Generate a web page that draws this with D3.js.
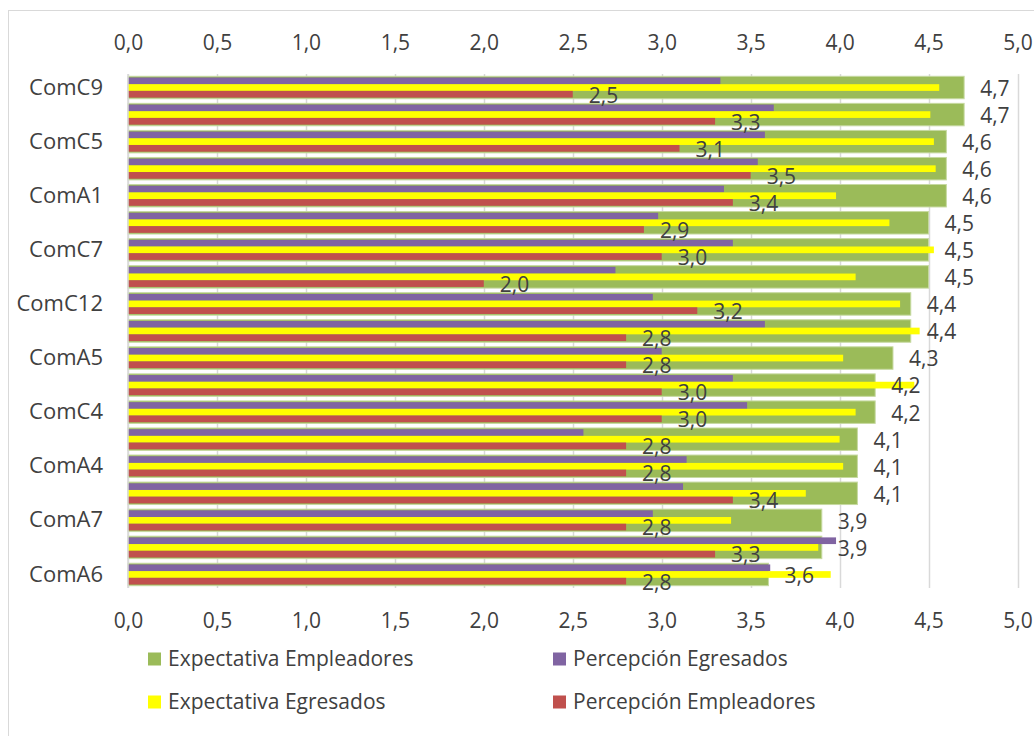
<!DOCTYPE html>
<html>
<head>
<meta charset="utf-8">
<script src="https://cdn.jsdelivr.net/npm/d3@7"></script>
<style>
  body { margin: 0; background: #fff; }
  text { font-family: "Open Sans", sans-serif; fill: #404040; }
</style>
</head>
<body>
<div id="chart"></div>
<script>
// data (only every other category name is printed)
var categories = ["ComC9", "", "ComC5", "", "ComA1", "", "ComC7", "", "ComC12", "",
                  "ComA5", "", "ComC4", "", "ComA4", "", "ComA7", "", "ComA6"];
var expEmpleadores  = [4.7, 4.7, 4.6, 4.6, 4.6, 4.5, 4.5, 4.5, 4.4, 4.4, 4.3, 4.2, 4.2, 4.1, 4.1, 4.1, 3.9, 3.9, 3.6];
var percEgresados   = [3.33, 3.63, 3.58, 3.54, 3.35, 2.98, 3.40, 2.74, 2.95, 3.58, 3.00, 3.40, 3.48, 2.56, 3.14, 3.12, 2.95, 3.98, 3.61];
var expEgresados    = [4.56, 4.51, 4.53, 4.54, 3.98, 4.28, 4.53, 4.09, 4.34, 4.45, 4.02, 4.42, 4.09, 4.00, 4.02, 3.81, 3.39, 3.88, 3.95];
var percEmpleadores = [2.5, 3.3, 3.1, 3.5, 3.4, 2.9, 3.0, 2.0, 3.2, 2.8, 2.8, 3.0, 3.0, 2.8, 2.8, 3.4, 2.8, 3.3, 2.8];
var xTicks = [0, 0.5, 1, 1.5, 2, 2.5, 3, 3.5, 4, 4.5, 5];

var seriesNames = ["Expectativa Empleadores", "Percepción Egresados", "Expectativa Egresados", "Percepción Empleadores"];
var colors = {
  "Expectativa Empleadores": "#9bbb59",
  "Percepción Egresados": "#8064a2",
  "Expectativa Egresados": "#ffff00",
  "Percepción Empleadores": "#c0504d"
};

var fontSize = "21px";
var fmt = d3.formatLocale({decimal: ",", thousands: ".", grouping: [3], currency: ["", ""]}).format(".1f");

var width = 1034, height = 736;
var svg = d3.select("#chart").append("svg")
  .attr("width", width)
  .attr("height", height);

// chart frame (runs off the picture on the right and bottom)
svg.append("rect")
  .attr("x", 8.5)
  .attr("y", 10.5)
  .attr("width", 1100)
  .attr("height", 800)
  .attr("fill", "#fff")
  .attr("stroke", "#d9d9d9");

var x = d3.scaleLinear().domain([0, 5]).range([128, 1017.5]);
var y = d3.scaleBand()
  .domain(d3.range(categories.length))
  .range([74, 588])
  .paddingInner(0.17)
  .paddingOuter(0.085);

// three thin bars sit inside the wide green one
var inner = d3.scaleBand()
  .domain(["Percepción Egresados", "Expectativa Egresados", "Percepción Empleadores"])
  .range([1.2, y.bandwidth() - 1.2]);

// GRIDLINES
svg.append("g").selectAll("line")
  .data(xTicks)
  .enter().append("line")
  .attr("x1", function(d) { return Math.round(x(d)) + 0.5; })
  .attr("x2", function(d) { return Math.round(x(d)) + 0.5; })
  .attr("y1", 74)
  .attr("y2", 588)
  .attr("stroke", "#d9d9d9")
  .attr("stroke-width", 1.5);

// AXES
var topAxis = svg.append("g")
  .attr("transform", "translate(0,74)")
  .call(d3.axisTop(x).tickValues(xTicks).tickFormat(fmt).tickSize(0).tickPadding(24));
var bottomAxis = svg.append("g")
  .attr("transform", "translate(0,588)")
  .call(d3.axisBottom(x).tickValues(xTicks).tickFormat(fmt).tickSize(0).tickPadding(25));
var leftAxis = svg.append("g")
  .attr("transform", "translate(128,0)")
  .call(d3.axisLeft(y).tickFormat(function(i) { return categories[i]; }).tickSize(0).tickPadding(25));

[topAxis, bottomAxis, leftAxis].forEach(function(a) {
  a.select(".domain").remove();
  a.selectAll("text")
    .attr("fill", "#404040")
    .style("font-size", fontSize)
    .style("font-family", "'Open Sans', sans-serif");
});
leftAxis.selectAll("text").style("font-size", "22px");

// BARS
var rows = d3.range(categories.length);

svg.append("g").selectAll("rect")
  .data(rows)
  .enter().append("rect")
  .attr("x", x(0))
  .attr("y", function(i) { return y(i); })
  .attr("width", function(i) { return x(expEmpleadores[i]) - x(0); })
  .attr("height", y.bandwidth())
  .attr("fill", colors["Expectativa Empleadores"])
  .attr("stroke", "#c6d9a0")
  .attr("stroke-width", 1);

var thin = [
  {name: "Percepción Egresados", values: percEgresados},
  {name: "Expectativa Egresados", values: expEgresados},
  {name: "Percepción Empleadores", values: percEmpleadores}
];

thin.forEach(function(s) {
  svg.append("g").selectAll("rect")
    .data(rows)
    .enter().append("rect")
    .attr("x", x(0))
    .attr("y", function(i) { return y(i) + inner(s.name); })
    .attr("width", function(i) { return x(s.values[i]) - x(0); })
    .attr("height", inner.bandwidth())
    .attr("fill", colors[s.name]);
});

// axis line at zero on top of the bars
svg.append("line")
  .attr("x1", x(0))
  .attr("x2", x(0))
  .attr("y1", 74)
  .attr("y2", 588)
  .attr("stroke", "#d9d9d9")
  .attr("stroke-width", 1.5);

// LABELS
svg.append("g").selectAll("text")
  .data(rows)
  .enter().append("text")
  .attr("x", function(i) { return x(expEmpleadores[i]) + 16; })
  .attr("y", function(i) { return y(i) + y.bandwidth() / 2 + 1; })
  .attr("dy", "0.35em")
  .style("font-size", fontSize)
  .text(function(i) { return fmt(expEmpleadores[i]); });

svg.append("g").selectAll("text")
  .data(rows)
  .enter().append("text")
  .attr("x", function(i) { return x(percEmpleadores[i]) + 16; })
  .attr("y", function(i) { return y(i) + inner("Percepción Empleadores") + inner.bandwidth() / 2 + 1; })
  .attr("dy", "0.35em")
  .style("font-size", fontSize)
  .text(function(i) { return fmt(percEmpleadores[i]); });

// LEGEND
var legendPos = [
  {x: 148, y: 659}, {x: 553, y: 659},
  {x: 148, y: 702}, {x: 553, y: 702}
];

var legend = svg.append("g").selectAll("g")
  .data(seriesNames)
  .enter().append("g")
  .attr("transform", function(d, i) { return "translate(" + legendPos[i].x + "," + legendPos[i].y + ")"; });

legend.append("rect")
  .attr("x", 0)
  .attr("y", -6.5)
  .attr("width", 13)
  .attr("height", 13)
  .attr("fill", function(d) { return colors[d]; });

legend.append("text")
  .attr("x", 20)
  .attr("y", 0)
  .attr("dy", "0.35em")
  .style("font-size", fontSize)
  .text(function(d) { return d; });
</script>
</body>
</html>
